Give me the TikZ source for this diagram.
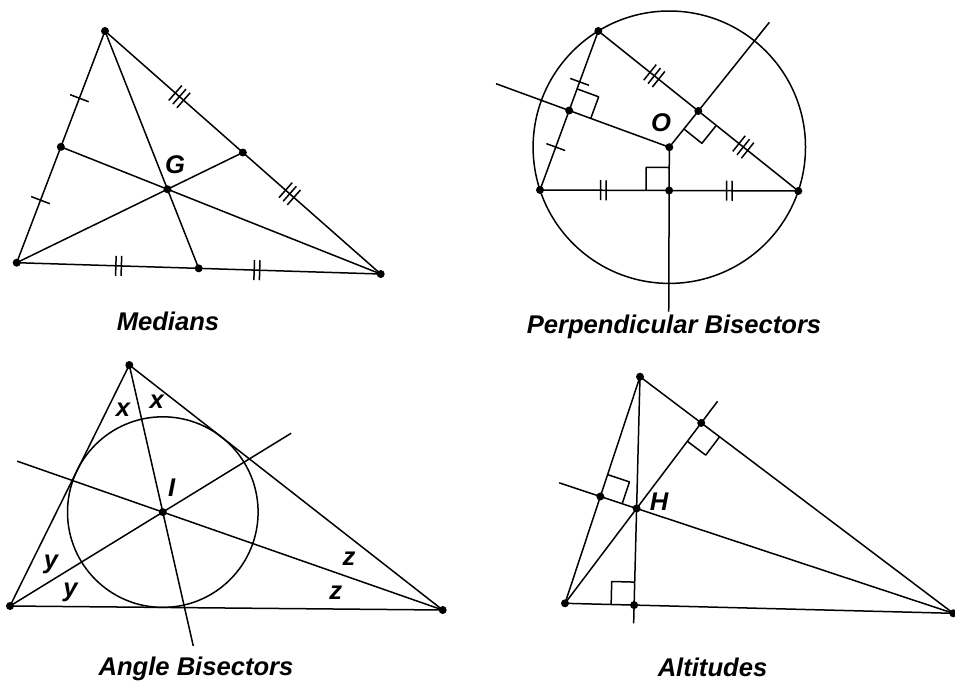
\documentclass[tikz,border=0pt]{standalone}
\usepackage{fontspec}
\setmainfont{Liberation Sans}
\usepackage{tikz}
\usetikzlibrary{calc}

% right angle mark at #1, sides towards #2 and #3
\newcommand{\rtangle}[3]{%
  \path ($(#1)!23pt!(#2)$) coordinate (ra) ($(#1)!23pt!(#3)$) coordinate (rb);
  \draw (ra) -- ($(ra)+(rb)-(#1)$) -- (rb);}
% #4 hash marks on #1--#2 at position #3
\newcommand{\hashes}[4]{%
  \foreach \k in {1,...,#4} {
    \path ($(#1)!#3!(#2)$) coordinate (hc);
    \path ($(hc)!{(\k-(#4+1)/2)*5.5pt}!(#2)$) coordinate (hk);
    \draw ($(hk)!10pt!90:(#2)$) -- ($(hk)!10pt!-90:(#2)$);
  }}

\begin{document}
\begin{tikzpicture}[x=1pt,y=-1pt,line width=1.5pt,line join=round,
    lbl/.style={font=\fontsize{25.6}{30}\selectfont\bfseries\itshape,anchor=base,inner sep=0pt}]
    \useasboundingbox (0,0) rectangle (955,681);

    % Medians
    \coordinate (mA) at (105,31);
    \coordinate (mB) at (16.7,262.7);
    \coordinate (mC) at (380.7,274);
    \coordinate (mAB) at ($(mA)!0.5!(mB)$);
    \coordinate (mAC) at ($(mA)!0.5!(mC)$);
    \coordinate (mBC) at ($(mB)!0.5!(mC)$);
    \coordinate (mG) at ($(mA)!2/3!(mBC)$);
    \draw (mA) -- (mB) -- (mC) -- cycle;
    \draw (mA) -- (mBC) (mB) -- (mAC) (mC) -- (mAB);
    \hashes{mA}{mB}{0.29}{1}
    \hashes{mA}{mB}{0.73}{1}
    \hashes{mB}{mC}{0.28}{2}
    \hashes{mB}{mC}{0.66}{2}
    \hashes{mA}{mC}{0.27}{3}
    \hashes{mA}{mC}{0.67}{3}
    \foreach \p in {mA,mB,mC,mAB,mAC,mBC,mG}
        \fill (\p) circle (4pt);
    \node[lbl] (labG) at (175,173.3) {G};
    \node[lbl] (capMed) at (168,330) {Medians};

    % Perpendicular bisectors
    \coordinate (pA) at (598.3,31);
    \coordinate (pB) at (540,190);
    \coordinate (pC) at (798.3,191);
    \coordinate (pO) at (669.3,147.2);
    \coordinate (pAB) at ($(pA)!0.5!(pB)$);
    \coordinate (pAC) at ($(pA)!0.5!(pC)$);
    \coordinate (pBC) at ($(pB)!0.5!(pC)$);
    \draw (pO) circle (136.2);
    \draw (pA) -- (pB) -- (pC) -- cycle;
    \draw (pO) -- ($(pO)!1.73!(pAB)$);
    \draw (pO) -- ($(pO)!3.45!(pAC)$);
    \draw (pO) -- ($(pO)!3.8!(pBC)$);
    \rtangle{pAB}{pA}{pO}
    \rtangle{pAC}{pC}{pO}
    \rtangle{pBC}{pB}{pO}
    \hashes{pA}{pB}{0.32}{1}
    \hashes{pA}{pB}{0.73}{1}
    \hashes{pB}{pC}{0.245}{2}
    \hashes{pB}{pC}{0.733}{2}
    \hashes{pA}{pC}{0.28}{3}
    \hashes{pA}{pC}{0.725}{3}
    \foreach \p in {pA,pB,pC,pAB,pAC,pBC,pO}
        \fill (\p) circle (4pt);
    \node[lbl] (labO) at (661,131.7) {O};
    \node[lbl] (capPerp) at (674,333.3) {Perpendicular Bisectors};

    % Angle bisectors
    \coordinate (bA) at (129.3,365);
    \coordinate (bB) at (10,606);
    \coordinate (bC) at (442.7,610);
    \coordinate (bI) at (162.8,512.1);
    \draw (bI) circle (95.3);
    \draw (bA) -- (bB) -- (bC) -- cycle;
    \draw (bA) -- ($(bA)!1.91!(bI)$);
    \draw (bB) -- ($(bB)!1.84!(bI)$);
    \draw (bC) -- ($(bC)!1.52!(bI)$);
    \foreach \p in {bA,bB,bC,bI}
        \fill (\p) circle (4pt);
    \node[lbl] (labI) at (171.7,496.7) {I};
    \node[lbl] (labXa) at (123,416.7) {x};
    \node[lbl] (labXb) at (156.7,408.3) {x};
    \node[lbl] (labYa) at (51,568.3) {y};
    \node[lbl] (labYb) at (70.5,596.7) {y};
    \node[lbl] (labZa) at (349,565) {z};
    \node[lbl] (labZb) at (335.8,599.3) {z};
    \node[lbl] (capAng) at (196,675) {Angle Bisectors};

    % Altitudes
    \coordinate (aA) at (640,376.7);
    \coordinate (aB) at (565,603.3);
    \coordinate (aC) at (953.3,613.3);
    \coordinate (aFa) at ($(aB)!(aA)!(aC)$);
    \coordinate (aFb) at ($(aA)!(aB)!(aC)$);
    \coordinate (aFc) at ($(aA)!(aC)!(aB)$);
    \coordinate (aH) at (intersection of aA--aFa and aB--aFb);
    \draw (aA) -- (aB) -- (aC) -- cycle;
    \draw (aA) -- ($(aA)!1.08!(aFa)$);
    \draw (aB) -- ($(aB)!1.12!(aFb)$);
    \draw (aC) -- ($(aC)!1.117!(aFc)$);
    \rtangle{aFa}{aB}{aA}
    \rtangle{aFc}{aA}{aC}
    \rtangle{aFb}{aC}{aB}
    \foreach \p in {aA,aB,aC,aFa,aFb,aFc,aH}
        \fill (\p) circle (4pt);
    \node[lbl] (labH) at (659,510) {H};
    \node[lbl] (capAlt) at (712.5,676) {Altitudes};
\end{tikzpicture}
\end{document}
